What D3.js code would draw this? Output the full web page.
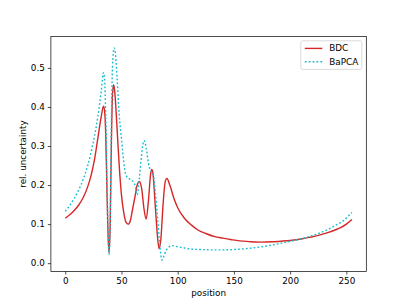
<!DOCTYPE html>
<html>
<head>
<meta charset="utf-8">
<script src="https://cdn.jsdelivr.net/npm/d3@7"></script>
<style>
  body { margin: 0; background: #fff; }
  text { font-family: 'DejaVu Sans', sans-serif; }
</style>
</head>
<body>
<div id="chart"></div>
<script>
// BDC series (position, rel. uncertainty)
let bdcX = [0, 4, 8, 12, 16, 20, 23, 26, 29, 32, 34, 35, 36, 37, 38, 39, 40, 41, 42, 43, 44, 45, 46, 48, 50, 52, 54, 56, 58, 60, 62, 64, 66, 68, 70, 72, 74, 76, 77, 78, 80, 82, 83.5, 85, 87, 89, 90.5, 93, 97, 100, 106, 112, 118, 125, 133, 140, 148, 155, 165, 175, 185, 200, 210, 217, 225, 232, 240, 245, 250, 255]
let bdcY = [0.115, 0.124, 0.135, 0.149, 0.168, 0.196, 0.225, 0.265, 0.32, 0.375, 0.402, 0.39, 0.33, 0.2, 0.08, 0.026, 0.1, 0.3, 0.43, 0.457, 0.44, 0.4, 0.35, 0.25, 0.175, 0.13, 0.105, 0.1, 0.11, 0.14, 0.17, 0.2, 0.209, 0.19, 0.14, 0.113, 0.16, 0.23, 0.24, 0.23, 0.15, 0.07, 0.037, 0.06, 0.15, 0.21, 0.217, 0.2, 0.163, 0.142, 0.115, 0.098, 0.085, 0.076, 0.068, 0.064, 0.06, 0.057, 0.055, 0.054, 0.055, 0.058, 0.062, 0.066, 0.071, 0.077, 0.085, 0.091, 0.1, 0.112]

// BaPCA series
let bapcaX = [0, 4, 8, 12, 16, 20, 23, 26, 29, 32, 34, 35, 36, 37, 38, 39, 40, 41, 42, 43.5, 44.5, 46, 48, 50, 52, 54, 57, 60, 62, 64, 66, 68, 70, 72, 74, 76, 78, 80, 82, 84, 86, 88, 90, 93, 95, 100, 106, 112, 120, 130, 140, 150, 160, 170, 185, 195, 208, 218, 226, 234, 241, 248, 253.5, 255]
let bapcaY = [0.133, 0.148, 0.166, 0.188, 0.215, 0.25, 0.285, 0.325, 0.375, 0.44, 0.488, 0.47, 0.38, 0.23, 0.09, 0.022, 0.12, 0.35, 0.5, 0.551, 0.54, 0.48, 0.38, 0.32, 0.26, 0.225, 0.216, 0.21, 0.2, 0.175, 0.22, 0.28, 0.314, 0.295, 0.256, 0.236, 0.228, 0.185, 0.12, 0.05, 0.008, 0.02, 0.034, 0.043, 0.045, 0.042, 0.039, 0.036, 0.035, 0.034, 0.034, 0.035, 0.037, 0.04, 0.047, 0.053, 0.061, 0.069, 0.077, 0.087, 0.098, 0.11, 0.126, 0.13]

let xTicks = [0, 50, 100, 150, 200, 250]
let yTicks = [0.0, 0.1, 0.2, 0.3, 0.4, 0.5]
let seriesNames = ['BDC', 'BaPCA']
let seriesColors = ['#d62728', '#17becf']

let W = 407
let H = 305
let margin = { top: 36.6, left: 50.9, right: 40.7, bottom: 33.55 }
let width = W - margin.left - margin.right
let height = H - margin.top - margin.bottom

let svg = d3
  .select('#chart')
  .append('svg')
  .attr('width', W)
  .attr('height', H)
  .append('g')
  .attr('transform', `translate(${margin.left}, ${margin.top})`)

let x = d3.scaleLinear().domain([-12.75, 267.75]).range([0, width])
let y = d3.scaleLinear().domain([-0.0212, 0.5802]).range([height, 0])

let bdc = bdcX.map((d, i) => [d, bdcY[i]])
let bapca = bapcaX.map((d, i) => [d, bapcaY[i]])

let line = d3
  .line()
  .x(d => x(d[0]))
  .y(d => y(d[1]))
  .curve(d3.curveMonotoneX)

svg
  .append('path')
  .datum(bdc)
  .attr('d', line)
  .attr('fill', 'none')
  .attr('stroke', seriesColors[0])
  .attr('stroke-width', 1.4)

svg
  .append('path')
  .datum(bapca)
  .attr('d', line)
  .attr('fill', 'none')
  .attr('stroke', seriesColors[1])
  .attr('stroke-width', 1.4)
  .attr('stroke-dasharray', '1.8,2.1')

// axes
let xAxis = svg
  .append('g')
  .attr('transform', `translate(0, ${height})`)
  .call(d3.axisBottom(x).tickValues(xTicks).tickSize(3.1).tickPadding(3).tickFormat(d3.format('d')))

let yAxis = svg
  .append('g')
  .call(d3.axisLeft(y).tickValues(yTicks).tickSize(3.1).tickPadding(3).tickFormat(d3.format('.1f')))

for (let ax of [xAxis, yAxis]) {
  ax.select('.domain').remove()
  ax.selectAll('line').attr('stroke', '#000').attr('stroke-width', 0.7)
  ax.selectAll('text').attr('font-size', 8.8).attr('fill', '#000').attr('font-family', 'DejaVu Sans, sans-serif')
}

svg
  .append('rect')
  .attr('width', width)
  .attr('height', height)
  .attr('fill', 'none')
  .attr('stroke', '#000')
  .attr('stroke-width', 0.7)

svg
  .append('text')
  .attr('x', width / 2)
  .attr('y', height + 25)
  .attr('text-anchor', 'middle')
  .attr('font-size', 8.8)
  .text('position')

svg
  .append('text')
  .attr('transform', `translate(${-24.5}, ${height / 2}) rotate(-90)`)
  .attr('text-anchor', 'middle')
  .attr('font-size', 8.8)
  .text('rel. uncertainty')

// legend
let legend = svg.append('g').attr('transform', `translate(${width - 65.5}, 4.2)`)

legend
  .append('rect')
  .attr('width', 61)
  .attr('height', 28.6)
  .attr('rx', 2)
  .attr('fill', 'rgba(255,255,255,0.8)')
  .attr('stroke', '#cccccc')
  .attr('stroke-width', 0.7)

seriesNames.forEach((name, i) => {
  legend
    .append('line')
    .attr('x1', 4)
    .attr('x2', 21.5)
    .attr('y1', 7.6 + i * 13.3)
    .attr('y2', 7.6 + i * 13.3)
    .attr('stroke', seriesColors[i])
    .attr('stroke-width', 1.4)
    .attr('stroke-dasharray', i === 1 ? '1.8,2.1' : null)

  legend
    .append('text')
    .attr('x', 28.5)
    .attr('y', 7.6 + i * 13.3)
    .attr('dy', '0.35em')
    .attr('font-size', 8.8)
    .text(name)
})
</script>
</body>
</html>
